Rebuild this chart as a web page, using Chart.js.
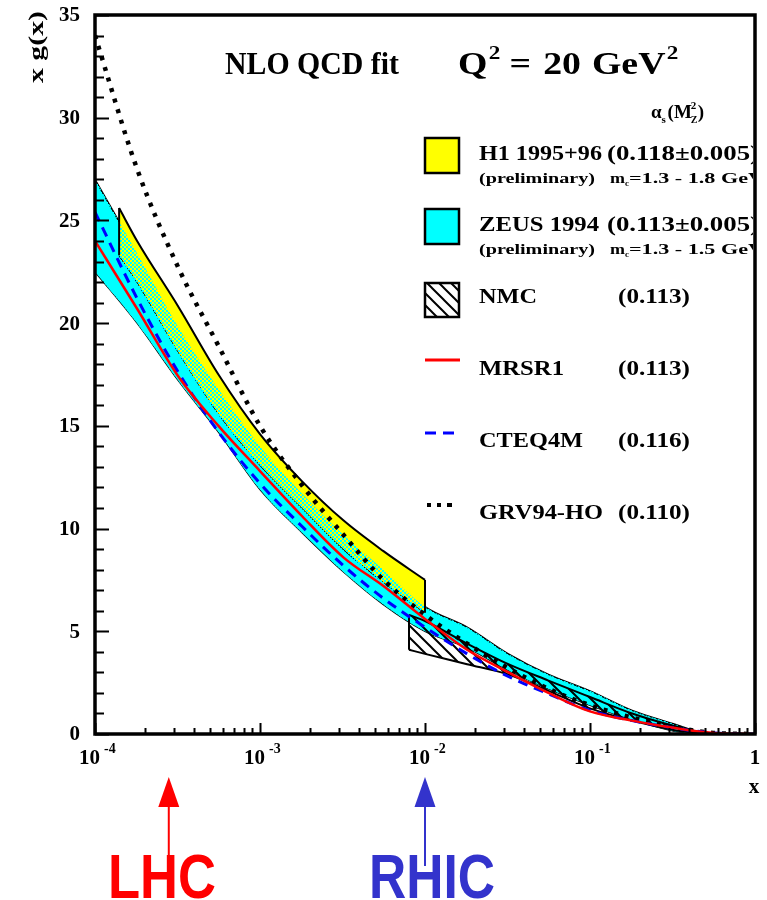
<!DOCTYPE html>
<html>
<head>
<meta charset="utf-8">
<script src="https://cdn.jsdelivr.net/npm/chart.js@4.4.1/dist/chart.umd.min.js"></script>
<style>
  html, body { margin: 0; padding: 0; background: #fff; }
  canvas { display: block; }
</style>
</head>
<body>
<canvas id="graph" width="767" height="900"></canvas>
<script>
// x values (log grid) and the parametrisations
const xGrid  = [1e-4, 1.8e-4, 3.2e-4, 5.6e-4, 1e-3, 1.8e-3, 3.2e-3, 5.6e-3, 1e-2, 1.8e-2, 3.2e-2, 5.6e-2, 0.1, 0.18, 0.32, 0.56, 1];
const mrsr1  = [24.0, 20.7, 17.4, 15.0, 12.8, 10.6, 8.6, 7.2, 5.6, 4.1, 3.0, 2.0, 1.1, 0.65, 0.3, 0.05, 0];
const cteq4m = [25.4, 21.2, 17.6, 14.7, 12.2, 10.1, 8.2, 6.6, 5.2, 3.9, 2.8, 1.95, 1.15, 0.65, 0.3, 0.05, 0];
const grv94  = [34.0, 27.5, 22.7, 18.9, 15.0, 12.1, 9.7, 7.5, 5.8, 4.4, 3.2, 2.2, 1.4, 0.8, 0.35, 0.05, 0];

// H1 1995+96 error band
const h1X     = [1.4e-4, 1.8e-4, 3.2e-4, 5.6e-4, 1e-3, 1.8e-3, 3.2e-3, 5.6e-3, 1e-2];
const h1Upper = [25.6, 24.0, 20.8, 17.5, 14.6, 12.3, 10.4, 8.9, 7.5];
const h1Lower = [23.3, 22.0, 18.6, 15.6, 13.1, 11.0, 9.0, 7.4, 5.9];

// ZEUS 1994 error band
const zeusX     = [1e-4, 1.8e-4, 3.2e-4, 5.6e-4, 1e-3, 1.8e-3, 3.2e-3, 5.6e-3, 1e-2, 1.8e-2, 3.2e-2, 5.6e-2, 0.1, 0.18, 0.32, 0.45];
const zeusUpper = [27.0, 23.4, 19.8, 16.8, 14.0, 11.7, 9.7, 8.0, 6.2, 5.2, 3.9, 2.9, 2.1, 1.15, 0.5, 0.1];
const zeusLower = [22.5, 20.0, 17.2, 14.7, 11.9, 9.8, 7.9, 6.3, 5.0, 4.2, 3.1, 2.2, 1.4, 0.7, 0.15, 0];

// NMC band
const nmcX     = [8e-3, 1e-2, 1.8e-2, 3.2e-2, 5.6e-2, 0.1, 0.18, 0.32, 0.5];
const nmcUpper = [5.8, 5.5, 4.4, 3.4, 2.6, 1.8, 1.0, 0.4, 0.03];
const nmcLower = [4.1, 3.9, 3.4, 2.9, 2.1, 1.25, 0.65, 0.2, 0];

const yTicks = [0, 5, 10, 15, 20, 25, 30, 35];
const xDecades = [-4, -3, -2, -1, 0];

const pts = (xs, ys) => xs.map((x, i) => ({ x: x, y: ys[i] }));
// vertical closing edge of a band at index i
const edge = (xs, up, lo, i) => [{ x: xs[i], y: lo[i] }, { x: xs[i], y: up[i] }];

function hatchPattern() {
  const c = document.createElement('canvas');
  c.width = 12; c.height = 12;
  const g = c.getContext('2d');
  g.strokeStyle = '#000';
  g.lineWidth = 2;
  g.beginPath();
  g.moveTo(-1, -1); g.lineTo(13, 13);
  g.moveTo(-7, 5); g.lineTo(7, 19);
  g.moveTo(5, -7); g.lineTo(19, 7);
  g.stroke();
  return g.createPattern(c, 'repeat');
}
function checkerPattern() {
  const c = document.createElement('canvas');
  c.width = 4; c.height = 4;
  const g = c.getContext('2d');
  g.fillStyle = '#00ffff';
  g.fillRect(0, 0, 2, 2);
  g.fillRect(2, 2, 2, 2);
  return g.createPattern(c, 'repeat');
}
const hatch = hatchPattern();
const checker = checkerPattern();

const SERIF = '"Liberation Serif", "Times New Roman", serif';
const SANS = '"Liberation Sans", Arial, sans-serif';

function txt(ctx, s, x, y, font, color, w, align) {
  ctx.font = font;
  ctx.fillStyle = color || '#000';
  const m = ctx.measureText(s).width;
  const sx = w ? w / m : 1;
  ctx.save();
  ctx.translate(x, y);
  ctx.scale(sx, 1);
  ctx.textAlign = align || 'left';
  ctx.fillText(s, 0, 0);
  ctx.restore();
  return m * sx;
}

const decor = {
  id: 'decor',
  afterDatasetsDraw(chart) {
    const { ctx, chartArea: a, scales: { x, y } } = chart;
    ctx.save();
    ctx.strokeStyle = '#000';
    ctx.lineWidth = 2;
    ctx.beginPath();
    // y ticks, pointing into the frame
    for (let v = 0; v <= 35; v++) {
      const py = Math.round(y.getPixelForValue(v)) + 0.5;
      const len = v % 5 === 0 ? 14 : 9;
      ctx.moveTo(a.left, py); ctx.lineTo(a.left + len, py);
    }
    // x ticks
    for (const d of xDecades) {
      for (let m = 1; m <= 9; m++) {
        const v = m * Math.pow(10, d);
        if (v > 1) break;
        const px = Math.round(x.getPixelForValue(v)) + 0.5;
        const len = m === 1 ? 11 : 6;
        ctx.moveTo(px, a.bottom); ctx.lineTo(px, a.bottom - len);
      }
    }
    ctx.stroke();
    // frame
    ctx.lineWidth = 3.5;
    ctx.strokeRect(a.left, a.top, a.right - a.left, a.bottom - a.top);

    // y tick labels
    ctx.textBaseline = 'middle';
    for (const v of yTicks) {
      txt(ctx, String(v), 80, y.getPixelForValue(v) + 1, 'bold 21px ' + SERIF, '#000', null, 'right');
    }
    ctx.textBaseline = 'alphabetic';
    // x tick labels 10^n
    for (const d of xDecades) {
      const px = x.getPixelForValue(Math.pow(10, d));
      if (d === 0) {
        txt(ctx, '1', px, 764, 'bold 21px ' + SERIF, '#000', null, 'center');
      } else {
        txt(ctx, '10', px + 5, 764, 'bold 21px ' + SERIF, '#000', null, 'right');
        txt(ctx, String(d), px + 9, 753, 'bold 14px ' + SERIF, '#000');
      }
    }
    // axis titles
    txt(ctx, 'x', 754, 793, 'bold 21px ' + SERIF, '#000', null, 'center');
    ctx.save();
    ctx.translate(43, 47);
    ctx.rotate(-Math.PI / 2);
    txt(ctx, 'x g(x)', 0, 0, 'bold 20px ' + SERIF, '#000', 72, 'center');
    ctx.restore();

    // title
    txt(ctx, 'NLO QCD fit', 225, 74, 'bold 31px ' + SERIF, '#000', 174);
    ctx.save();
    ctx.translate(458, 74);
    ctx.scale(1.22, 1);
    let qx = 0;
    qx += txt(ctx, 'Q', qx, 0, 'bold 31px ' + SERIF, '#000');
    txt(ctx, '2', qx + 1, -15, 'bold 19px ' + SERIF, '#000');
    qx += 18;
    qx += txt(ctx, '=', qx, 0, 'bold 31px ' + SERIF, '#000');
    qx += 10;
    qx += txt(ctx, '20', qx, 0, 'bold 31px ' + SERIF, '#000');
    qx += 9;
    qx += txt(ctx, 'GeV', qx, 0, 'bold 31px ' + SERIF, '#000');
    txt(ctx, '2', qx + 1, -15, 'bold 19px ' + SERIF, '#000');
    ctx.restore();

    // legend, clipped by the frame on the right
    ctx.save();
    ctx.beginPath();
    ctx.rect(a.left, a.top, a.right - a.left - 2, a.bottom - a.top);
    ctx.clip();
    const big = 'bold 20px ' + SERIF;
    const small = 'bold 14px ' + SERIF;
    // alpha_s(M_Z^2)
    let ax = 651;
    ax += txt(ctx, '\u03b1', ax, 118, 'bold 19px ' + SERIF);
    txt(ctx, 's', ax, 123, 'bold 11px ' + SERIF);
    ax += 6;
    ax += txt(ctx, '(M', ax, 118, 'bold 19px ' + SERIF);
    txt(ctx, '2', ax - 1, 109, 'bold 11px ' + SERIF);
    txt(ctx, 'Z', ax - 1, 123, 'bold 10px ' + SERIF);
    ax += 6;
    txt(ctx, ')', ax, 118, 'bold 19px ' + SERIF);

    ctx.lineWidth = 2.5;
    ctx.strokeStyle = '#000';
    // H1
    ctx.fillStyle = '#ffff00';
    ctx.fillRect(425, 138, 34, 35);
    ctx.strokeRect(425, 138, 34, 35);
    txt(ctx, 'H1 1995+96', 479, 160, big, '#000', 123);
    txt(ctx, '(0.118\u00b10.005)', 607, 160, big, '#000', 152);
    txt(ctx, '(preliminary)', 479, 183, small, '#000', 116);
    let mx = 610;
    mx += txt(ctx, 'm', mx, 183, small, '#000', 15);
    txt(ctx, 'c', mx, 186, 'bold 9px ' + SERIF);
    mx += 4;
    txt(ctx, '=1.3 - 1.8 GeV', mx, 183, small, '#000', 135);
    // ZEUS
    ctx.fillStyle = '#00ffff';
    ctx.fillRect(425, 209, 34, 35);
    ctx.strokeRect(425, 209, 34, 35);
    txt(ctx, 'ZEUS 1994', 479, 231, big, '#000', 120);
    txt(ctx, '(0.113\u00b10.005)', 607, 231, big, '#000', 152);
    txt(ctx, '(preliminary)', 479, 254, small, '#000', 116);
    mx = 610;
    mx += txt(ctx, 'm', mx, 254, small, '#000', 15);
    txt(ctx, 'c', mx, 257, 'bold 9px ' + SERIF);
    mx += 4;
    txt(ctx, '=1.3 - 1.5 GeV', mx, 254, small, '#000', 135);
    // NMC
    ctx.fillStyle = '#fff';
    ctx.fillRect(425, 283, 34, 34);
    ctx.fillStyle = hatch;
    ctx.fillRect(425, 283, 34, 34);
    ctx.strokeRect(425, 283, 34, 34);
    txt(ctx, 'NMC', 479, 303, big, '#000', 58);
    txt(ctx, '(0.113)', 618, 303, big, '#000', 72);
    // MRSR1
    ctx.strokeStyle = '#ff0000';
    ctx.lineWidth = 3;
    ctx.beginPath(); ctx.moveTo(425, 360); ctx.lineTo(460, 360); ctx.stroke();
    txt(ctx, 'MRSR1', 479, 375, big, '#000', 85);
    txt(ctx, '(0.113)', 618, 375, big, '#000', 72);
    // CTEQ4M
    ctx.strokeStyle = '#0000ff';
    ctx.setLineDash([11, 7]);
    ctx.beginPath(); ctx.moveTo(425, 433); ctx.lineTo(455, 433); ctx.stroke();
    ctx.setLineDash([]);
    txt(ctx, 'CTEQ4M', 479, 447, big, '#000', 104);
    txt(ctx, '(0.116)', 618, 447, big, '#000', 72);
    // GRV94-HO
    ctx.fillStyle = '#000';
    ctx.fillRect(427, 503, 4, 4);
    ctx.fillRect(437, 503, 4, 4);
    ctx.fillRect(447, 503, 5, 4);
    txt(ctx, 'GRV94-HO', 479, 519, big, '#000', 124);
    txt(ctx, '(0.110)', 618, 519, big, '#000', 72);
    ctx.restore();

    // kinematic reach arrows
    const arrow = (px, col) => {
      ctx.strokeStyle = col;
      ctx.fillStyle = col;
      ctx.lineWidth = 2;
      ctx.beginPath(); ctx.moveTo(px, 800); ctx.lineTo(px, 866); ctx.stroke();
      ctx.beginPath();
      ctx.moveTo(px, 777); ctx.lineTo(px - 10.5, 807); ctx.lineTo(px + 10.5, 807);
      ctx.closePath(); ctx.fill();
    };
    arrow(x.getPixelForValue(2.8e-4), '#ff0000');
    arrow(x.getPixelForValue(1e-2), '#3333cc');
    txt(ctx, 'LHC', 108, 898, 'bold 63px ' + SANS, '#ff0000', 108);
    txt(ctx, 'RHIC', 369, 898, 'bold 63px ' + SANS, '#3333cc', 126);
    ctx.restore();
  }
};

const edgeLine = (data, width, order) => ({
  data: data, borderColor: '#000', borderWidth: width, pointRadius: 0, fill: false, order: order
});
const smooth = { pointRadius: 0, cubicInterpolationMode: 'monotone' };

new Chart(document.getElementById('graph'), {
  type: 'line',
  data: {
    datasets: [
      // 0,1: ZEUS band with black edges
      Object.assign({ data: pts(zeusX, zeusUpper), fill: 1, backgroundColor: '#00ffff', borderColor: '#000', borderWidth: 1.5, order: 20 }, smooth),
      Object.assign({ data: pts(zeusX, zeusLower), fill: false, borderColor: '#000', borderWidth: 1.5, order: 20 }, smooth),
      // 2,3: H1 band
      Object.assign({ data: pts(h1X, h1Upper), fill: 3, backgroundColor: '#ffff00', borderColor: '#000', borderWidth: 2, order: 18 }, smooth),
      Object.assign({ data: pts(h1X, h1Lower), fill: false, borderColor: '#000', borderWidth: 1.5, order: 18 }, smooth),
      // 4: ZEUS overlap shown as cyan checker over the yellow
      Object.assign({ data: pts(zeusX, zeusUpper), fill: 1, backgroundColor: checker, borderWidth: 0, order: 17 }, smooth),
      // 5,6: H1 end edges
      edgeLine(edge(h1X, h1Upper, h1Lower, 0), 2, 16),
      edgeLine(edge(h1X, h1Upper, h1Lower, h1X.length - 1), 2, 16),
      // 7,8,9: NMC hatched band
      Object.assign({ data: pts(nmcX, nmcUpper), fill: 8, backgroundColor: hatch, borderColor: '#000', borderWidth: 2, order: 15 }, smooth),
      Object.assign({ data: pts(nmcX, nmcLower), fill: false, borderColor: '#000', borderWidth: 2, order: 15 }, smooth),
      edgeLine(edge(nmcX, nmcUpper, nmcLower, 0), 2, 14),
      // curves
      { data: pts(xGrid, grv94), borderColor: '#000', borderWidth: 4.5, borderDash: [4, 7], borderCapStyle: 'butt', pointRadius: 0, cubicInterpolationMode: 'monotone', fill: false, order: 3 },
      { data: pts(xGrid, cteq4m), borderColor: '#0000ff', borderWidth: 3, borderDash: [10, 7], pointRadius: 0, cubicInterpolationMode: 'monotone', fill: false, order: 2 },
      { data: pts(xGrid, mrsr1), borderColor: '#ff0000', borderWidth: 2.5, pointRadius: 0, cubicInterpolationMode: 'monotone', fill: false, order: 1 }
    ]
  },
  options: {
    responsive: false,
    animation: false,
    devicePixelRatio: 1,
    layout: { padding: { left: 95, right: 12, top: 15, bottom: 166 } },
    scales: {
      x: { type: 'logarithmic', min: 1e-4, max: 1, display: false },
      y: { type: 'linear', min: 0, max: 35, display: false }
    },
    plugins: {
      legend: { display: false },
      tooltip: { enabled: false }
    }
  },
  plugins: [decor]
});
</script>
</body>
</html>
